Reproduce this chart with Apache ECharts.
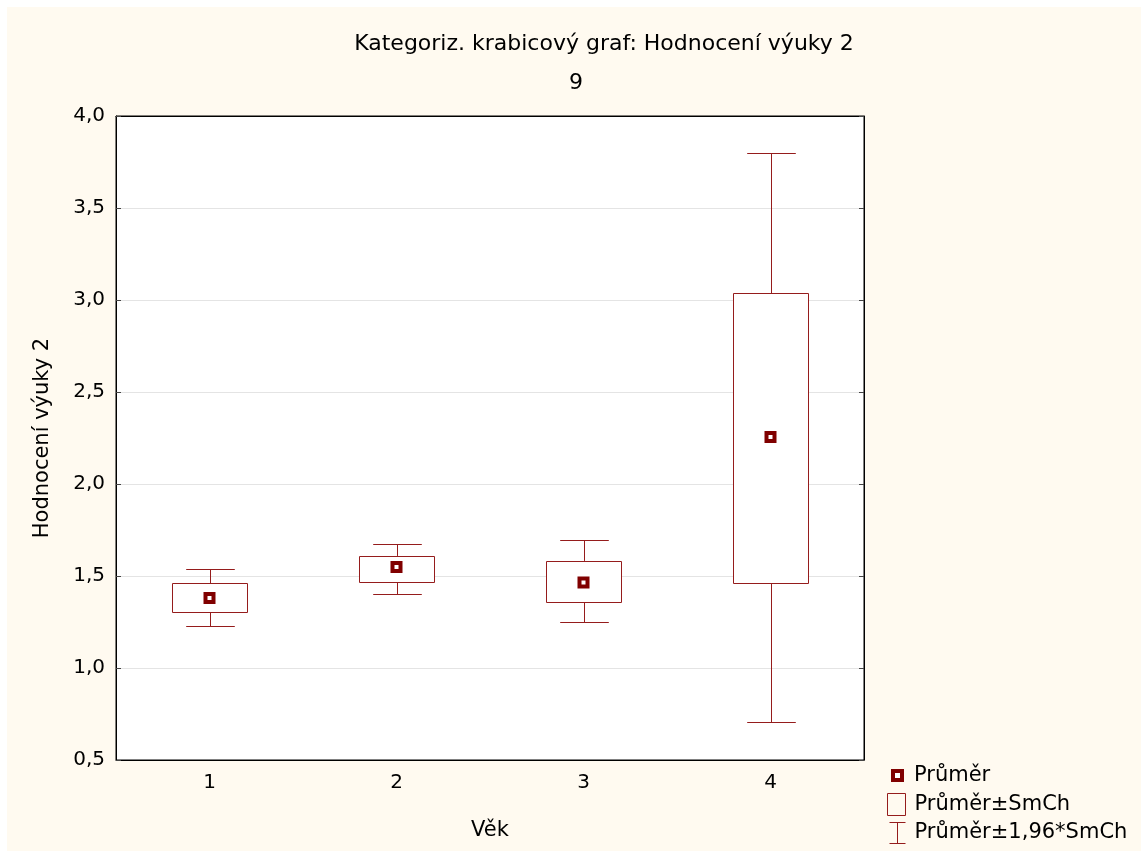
<!DOCTYPE html>
<html>
<head>
<meta charset="utf-8">
<script src="https://cdn.jsdelivr.net/npm/echarts@6/dist/echarts.min.js"></script>
<style>
  html, body { margin: 0; padding: 0; background: #fff; }
  #main { position: absolute; left: 7px; top: 7px; width: 1134px; height: 844px; }
</style>
</head>
<body>
<div id="main"></div>
<script>
// data
var categories = ['1', '2', '3', '4'];
var means      = [1.380, 1.549, 1.465, 2.255];
var boxLow     = [1.304, 1.467, 1.359, 1.462];
var boxHigh    = [1.462, 1.609, 1.582, 3.038];
var whiskLow   = [1.228, 1.402, 1.250, 0.707];
var whiskHigh  = [1.538, 1.674, 1.696, 3.799];

var FONT = '"DejaVu Sans", Verdana, sans-serif';
var RED = '#951C1C';
var DARK = '#800000';

var chartDom = document.getElementById('main');
var myChart = echarts.init(chartDom);

var boxData = categories.map(function (c, i) { return [i, boxLow[i], boxHigh[i]]; });
var whiskData = categories.map(function (c, i) { return [i, whiskLow[i], boxLow[i], boxHigh[i], whiskHigh[i]]; });
var meanData = categories.map(function (c, i) { return [i, means[i]]; });

function renderBox(params, api) {
  var x = api.value(0);
  var top = api.coord([x, api.value(2)]);
  var bot = api.coord([x, api.value(1)]);
  var w = api.size([1, 0])[0] * 0.4;
  return {
    type: 'rect',
    shape: { x: Math.round(top[0] - w / 2) + 0.5, y: Math.round(top[1]) + 0.5, width: Math.round(w), height: Math.round(bot[1] - top[1]) },
    style: { fill: '#fff', stroke: RED, lineWidth: 1 }
  };
}

function renderWhisker(params, api) {
  var x = api.value(0);
  var pLo = api.coord([x, api.value(1)]);
  var pBl = api.coord([x, api.value(2)]);
  var pBh = api.coord([x, api.value(3)]);
  var pHi = api.coord([x, api.value(4)]);
  var cw = api.size([1, 0])[0] * 0.26;
  var cx = Math.round(pLo[0]) + 0.5;
  function ln(x1, y1, x2, y2) {
    return { type: 'line', shape: { x1: x1, y1: y1, x2: x2, y2: y2 }, style: { stroke: RED, lineWidth: 1 } };
  }
  var yLo = Math.round(pLo[1]) + 0.5, yHi = Math.round(pHi[1]) + 0.5;
  return {
    type: 'group',
    children: [
      ln(cx, yHi, cx, pBh[1]),
      ln(cx - cw / 2, yHi, cx + cw / 2, yHi),
      ln(cx, pBl[1], cx, yLo),
      ln(cx - cw / 2, yLo, cx + cw / 2, yLo)
    ]
  };
}

var option = {
  backgroundColor: '#FFFAF0',
  animation: false,
  textStyle: { fontFamily: FONT },
  graphic: [
    { type: 'text', x: 597, y: 37, style: { text: 'Kategoriz. krabicový graf: Hodnocení výuky 2', font: '22px ' + FONT, fill: '#000', align: 'center', verticalAlign: 'middle' } },
    { type: 'text', x: 569, y: 76, style: { text: '9', font: '22px ' + FONT, fill: '#000', align: 'center', verticalAlign: 'middle' } }
  ],
  grid: { left: 109, top: 109, width: 748, height: 644, show: true, backgroundColor: '#fff', borderColor: '#000', borderWidth: 1 },
  legend: [
    {
      orient: 'vertical', left: 884, top: 758, padding: 0, itemWidth: 9, itemHeight: 9,
      textStyle: { fontSize: 21, color: '#000', fontFamily: FONT, padding: [0, 0, 0, 7] },
      data: [{ name: 'Průměr', icon: 'rect', itemStyle: { color: '#fff', borderColor: DARK, borderWidth: 4 } }]
    },
    {
      orient: 'vertical', left: 880, top: 786, padding: 0, itemWidth: 18, itemHeight: 22,
      textStyle: { fontSize: 21, color: '#000', fontFamily: FONT, padding: [0, 0, 0, 4] },
      data: [{ name: 'Průměr±SmCh', icon: 'rect', itemStyle: { color: 'transparent', borderColor: RED, borderWidth: 1 } }]
    },
    {
      orient: 'vertical', left: 882, top: 815, padding: 0, itemWidth: 16, itemHeight: 21,
      textStyle: { fontSize: 21, color: '#000', fontFamily: FONT, padding: [0, 0, 0, 4] },
      data: [{ name: 'Průměr±1,96*SmCh', icon: 'path://M0,0L16,0M8,0L8,21M0,21L16,21', itemStyle: { color: 'transparent', borderColor: RED, borderWidth: 1 } }]
    }
  ],
  xAxis: [
    {
      type: 'category', data: categories, boundaryGap: true,
      name: 'Věk', nameLocation: 'middle', nameGap: 60,
      nameTextStyle: { fontSize: 21, color: '#000', fontFamily: FONT },
      axisLine: { lineStyle: { color: '#000' } },
      axisTick: { inside: true, alignWithLabel: true, length: 5, lineStyle: { color: '#444' } },
      axisLabel: { fontSize: 20, color: '#000', margin: 13, fontFamily: FONT },
      splitLine: { show: false }
    },
    {
      type: 'category', data: categories, position: 'top', boundaryGap: true,
      axisLine: { lineStyle: { color: '#000' } },
      axisTick: { inside: true, alignWithLabel: true, length: 5, lineStyle: { color: '#444' } },
      axisLabel: { show: false }
    }
  ],
  yAxis: [
    {
      type: 'value', min: 0.5, max: 4.0, interval: 0.5,
      name: 'Hodnocení výuky 2', nameLocation: 'middle', nameGap: 63,
      nameTextStyle: { fontSize: 21, color: '#000', fontFamily: FONT },
      axisLine: { show: true, lineStyle: { color: '#000' } },
      axisTick: { show: true, inside: true, length: 5, lineStyle: { color: '#444' } },
      axisLabel: {
        fontSize: 20, color: '#000', margin: 11, fontFamily: FONT,
        formatter: function (v) { return v.toFixed(1).replace('.', ','); }
      },
      splitLine: { show: true, lineStyle: { color: '#E4E4E4', width: 1 } }
    },
    {
      type: 'value', min: 0.5, max: 4.0, interval: 0.5, position: 'right',
      axisLine: { show: true, lineStyle: { color: '#000' } },
      axisTick: { show: true, inside: true, length: 5, lineStyle: { color: '#444' } },
      axisLabel: { show: false },
      splitLine: { show: false }
    }
  ],
  series: [
    { name: 'Průměr±1,96*SmCh', type: 'custom', renderItem: renderWhisker, data: whiskData, z: 2, itemStyle: { color: 'transparent', borderColor: RED } },
    { name: 'Průměr±SmCh', type: 'custom', renderItem: renderBox, data: boxData, z: 3, itemStyle: { color: 'transparent', borderColor: RED } },
    {
      name: 'Průměr', type: 'scatter', data: meanData, symbol: 'rect', symbolSize: 8, z: 4,
      itemStyle: { color: '#fff', borderColor: DARK, borderWidth: 4, opacity: 1 }
    }
  ]
};

myChart.setOption(option);
</script>
</body>
</html>
